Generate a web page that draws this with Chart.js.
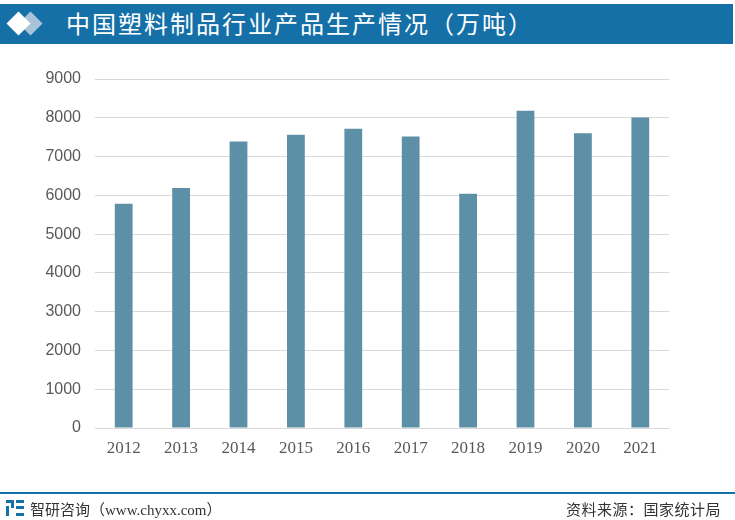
<!DOCTYPE html>
<html><head><meta charset="utf-8">
<script src="https://cdn.jsdelivr.net/npm/chart.js@4"></script>
<style>
html,body{margin:0;padding:0;background:#fff;width:735px;height:520px;overflow:hidden;font-family:"Noto Sans CJK SC",sans-serif;}
#hdr{position:absolute;left:0;top:4px;width:733px;height:40px;background:#1670a8;}
#title{position:absolute;left:66px;top:3px;height:40px;line-height:40px;color:#fff;font-size:24px;font-weight:400;letter-spacing:2px;}
.dia{position:absolute;width:17px;height:17px;transform:rotate(45deg);}
#c{position:absolute;left:0;top:0;}
#fline{position:absolute;left:0;top:492px;width:735px;height:2px;background:#1670a8;}
#fl{position:absolute;left:30px;top:498px;font-size:15px;color:#333;}
#fl span{font-family:"Liberation Serif",serif;font-size:15px;}
#fr{position:absolute;right:14px;top:498px;font-size:15px;color:#333;letter-spacing:0.5px;}
#logo{position:absolute;left:6px;top:500px;width:18px;height:16px;}
</style></head><body>
<div id="hdr"></div>
<div class="dia" style="left:22px;top:15px;background:#a9c4d8;"></div>
<div class="dia" style="left:10px;top:15px;background:#fff;"></div>
<div id="title">中国塑料制品行业产品生产情况（万吨）</div>
<canvas id="c" width="735" height="520"></canvas>
<div id="fline"></div>
<svg id="logo" viewBox="0 0 18 16"><rect x="0" y="0" width="8" height="3" fill="#1670a8"/><rect x="5" y="0" width="3" height="8" fill="#1670a8"/><rect x="0" y="6" width="3" height="10" fill="#1670a8"/><rect x="10" y="0" width="8" height="3" fill="#1670a8"/><rect x="10" y="6" width="8" height="3" fill="#1670a8"/><rect x="10" y="13" width="8" height="3" fill="#1670a8"/></svg>
<div id="fl">智研咨询（<span>www.chyxx.com</span>）</div>
<div id="fr">资料来源：国家统计局</div>
<script>
const categories = ["2012","2013","2014","2015","2016","2017","2018","2019","2020","2021"];
const production = [5781.9,6188.6,7387.8,7560.7,7717.2,7515.5,6042.1,8184.2,7603.2,8004.0];
const yTicks = [0,1000,2000,3000,4000,5000,6000,7000,8000,9000];

new Chart(document.getElementById('c'), {
  type: 'bar',
  data: { labels: categories, datasets: [{ data: production, backgroundColor: '#5d90a7', categoryPercentage: 1, barPercentage: 0.31 }] },
  options: {
    responsive: false, animation: false, devicePixelRatio: 1,
    layout: { padding: { left: 0, right: 66, top: 79, bottom: 62 } },
    plugins: { legend: { display: false }, tooltip: { enabled: false } },
    scales: {
      x: {
        grid: { display: false, drawTicks: false },
        border: { color: '#d9d9d9', width: 1 },
        ticks: { color: '#595959', font: { family: '"Liberation Serif", serif', size: 17 }, padding: 10 },
        afterFit: s => { s.height = 30; }
      },
      y: {
        min: 0, max: 9000,
        afterBuildTicks: s => { s.ticks = yTicks.map(v => ({ value: v })); },
        grid: { color: '#d9d9d9', drawTicks: false },
        border: { display: false },
        ticks: { color: '#595959', font: { family: '"Liberation Sans", sans-serif', size: 16 }, padding: 14, callback: v => String(v) },
        afterFit: s => { s.width = 95; }
      }
    }
  }
});
</script>
</body></html>
